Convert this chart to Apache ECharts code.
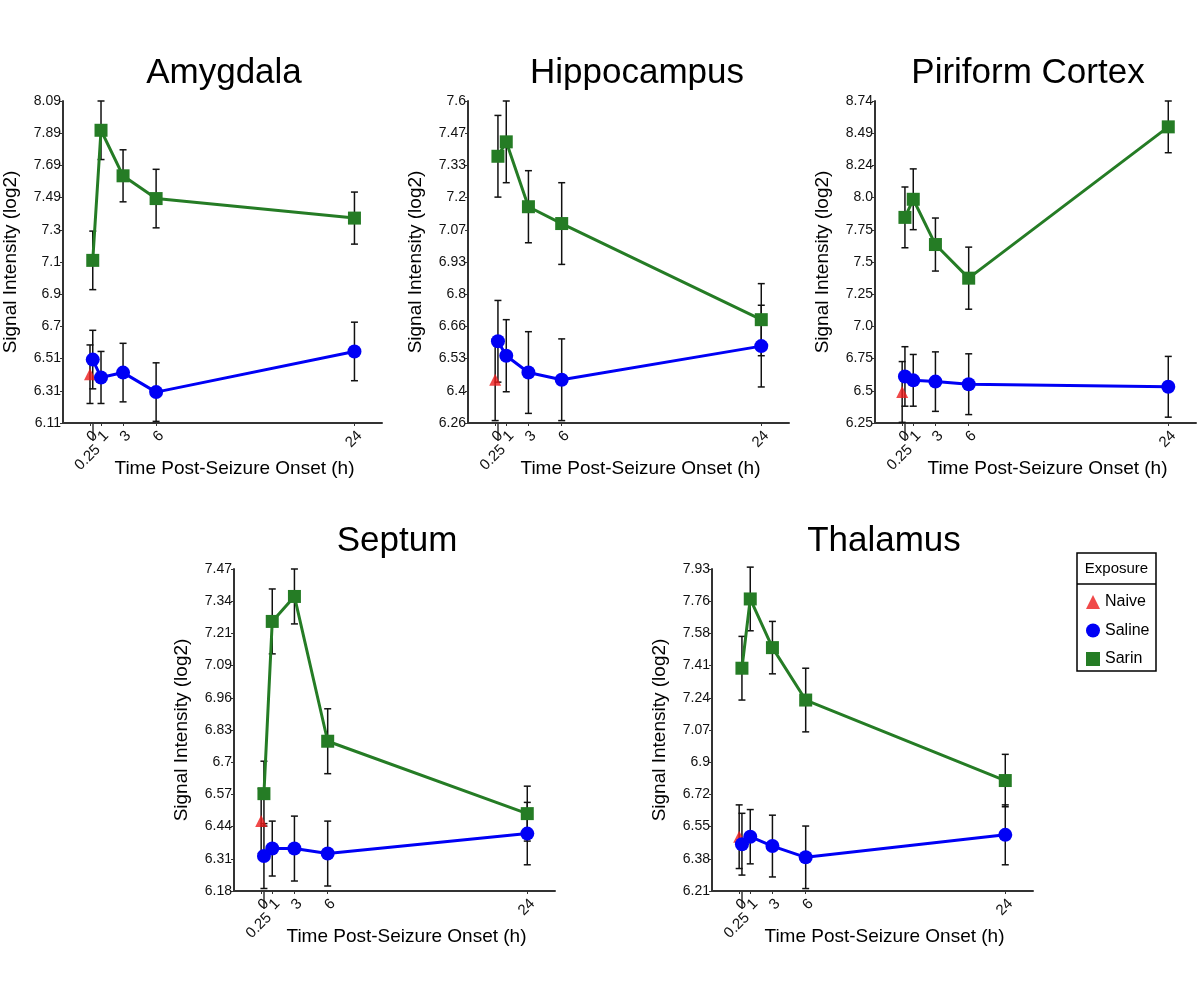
<!DOCTYPE html>
<html>
<head>
<meta charset="utf-8">
<script src="https://cdn.jsdelivr.net/npm/echarts@6/dist/echarts.min.js"></script>
<style>
  html, body { margin: 0; padding: 0; background: #fff; }
  #chart { width: 1200px; height: 985px; }
</style>
</head>
<body>
<div id="chart"></div>
<script>
// time points (h)
const times = [0.25, 1, 3, 6, 24];
const naiveTime = 0;
const xTicks = [1, 3, 6, 24];
const xTickZero = [0];
const xTickQuarter = [0.25];

// Amygdala
const amygdalaSarin = [7.11, 7.91, 7.63, 7.49, 7.37];
const amygdalaSarinErr = [0.18, 0.18, 0.16, 0.18, 0.16];
const amygdalaSaline = [6.50, 6.39, 6.42, 6.30, 6.55];
const amygdalaSalineErr = [0.18, 0.16, 0.18, 0.18, 0.18];
const amygdalaNaive = [6.41, 0.18];
const amygdalaTicks = ['6.11', '6.31', '6.51', '6.7', '6.9', '7.1', '7.3', '7.49', '7.69', '7.89', '8.09'];

// Hippocampus
const hippoSarin = [7.37, 7.43, 7.16, 7.09, 6.69];
const hippoSarinErr = [0.17, 0.17, 0.15, 0.17, 0.15];
const hippoSaline = [6.60, 6.54, 6.47, 6.44, 6.58];
const hippoSalineErr = [0.17, 0.15, 0.17, 0.17, 0.17];
const hippoNaive = [6.44, 0.17];
const hippoTicks = ['6.26', '6.4', '6.53', '6.66', '6.8', '6.93', '7.07', '7.2', '7.33', '7.47', '7.6'];

// Piriform Cortex
const piriformSarin = [7.84, 7.98, 7.63, 7.37, 8.54];
const piriformSarinErr = [0.235, 0.235, 0.205, 0.24, 0.2];
const piriformSaline = [6.61, 6.58, 6.57, 6.55, 6.53];
const piriformSalineErr = [0.23, 0.2, 0.23, 0.235, 0.235];
const piriformNaive = [6.49, 0.235];
const piriformTicks = ['6.25', '6.5', '6.75', '7.0', '7.25', '7.5', '7.75', '8.0', '8.24', '8.49', '8.74'];

// Septum
const septumSarin = [6.57, 7.26, 7.36, 6.78, 6.49];
const septumSarinErr = [0.13, 0.13, 0.11, 0.13, 0.11];
const septumSaline = [6.32, 6.35, 6.35, 6.33, 6.41];
const septumSalineErr = [0.13, 0.11, 0.13, 0.13, 0.125];
const septumNaive = [6.46, 0.13];
const septumTicks = ['6.18', '6.31', '6.44', '6.57', '6.7', '6.83', '6.96', '7.09', '7.21', '7.34', '7.47'];

// Thalamus
const thalamusSarin = [7.40, 7.77, 7.51, 7.23, 6.80];
const thalamusSarinErr = [0.17, 0.17, 0.14, 0.17, 0.14];
const thalamusSaline = [6.46, 6.50, 6.45, 6.39, 6.51];
const thalamusSalineErr = [0.165, 0.145, 0.165, 0.167, 0.16];
const thalamusNaive = [6.50, 0.17];
const thalamusTicks = ['6.21', '6.38', '6.55', '6.72', '6.9', '7.07', '7.24', '7.41', '7.58', '7.76', '7.93'];

const panels = [
  { title: 'Amygdala', sarin: amygdalaSarin, sarinErr: amygdalaSarinErr, saline: amygdalaSaline, salineErr: amygdalaSalineErr, naive: amygdalaNaive, ticks: amygdalaTicks },
  { title: 'Hippocampus', sarin: hippoSarin, sarinErr: hippoSarinErr, saline: hippoSaline, salineErr: hippoSalineErr, naive: hippoNaive, ticks: hippoTicks },
  { title: 'Piriform Cortex', sarin: piriformSarin, sarinErr: piriformSarinErr, saline: piriformSaline, salineErr: piriformSalineErr, naive: piriformNaive, ticks: piriformTicks },
  { title: 'Septum', sarin: septumSarin, sarinErr: septumSarinErr, saline: septumSaline, salineErr: septumSalineErr, naive: septumNaive, ticks: septumTicks },
  { title: 'Thalamus', sarin: thalamusSarin, sarinErr: thalamusSarinErr, saline: thalamusSaline, salineErr: thalamusSalineErr, naive: thalamusNaive, ticks: thalamusTicks }
];

// layout
const gridLeft = [61, 468, 875, 234, 712];
const gridTop = [101, 101, 101, 569, 569];
const gridW = 321, gridH = 322;
const titleX = [224, 637, 1028, 397, 884];
const xMin = -2.45, xMax = 26.5;

const GREEN = '#257c25', BLUE = '#0000f5', RED = '#ec1c1c', AXIS = '#333';
const FONT = '"Liberation Sans", Arial, sans-serif';

function renderErrorBar(params, api) {
  const x = api.value(0), y = api.value(1), e = api.value(2);
  const hi = api.coord([x, y + e]);
  const lo = api.coord([x, y - e]);
  const cap = 3.5;
  const style = { stroke: '#111', lineWidth: 1.5 };
  return {
    type: 'group',
    children: [
      { type: 'line', shape: { x1: hi[0], y1: hi[1], x2: lo[0], y2: lo[1] }, style },
      { type: 'line', shape: { x1: hi[0] - cap, y1: hi[1], x2: hi[0] + cap, y2: hi[1] }, style },
      { type: 'line', shape: { x1: lo[0] - cap, y1: lo[1], x2: lo[0] + cap, y2: lo[1] }, style }
    ]
  };
}

// one x axis per label group so that the library keeps every label
function timeAxis(i, values, tickLen, margin, withLine) {
  const ax = {
    gridIndex: i, type: 'value', min: xMin, max: xMax, position: 'bottom',
    axisLine: { show: withLine, onZero: false, lineStyle: { color: AXIS, width: 2 } },
    axisTick: { show: true, length: tickLen, customValues: values, lineStyle: { color: AXIS, width: tickLen > 5 ? 1.5 : 1 } },
    axisLabel: {
      show: true, customValues: values, rotate: 45, margin, align: 'right', verticalAlign: 'top',
      showMinLabel: true, showMaxLabel: true, hideOverlap: false,
      fontSize: 15, color: '#111', fontFamily: FONT
    },
    splitLine: { show: false }
  };
  if (withLine) {
    ax.name = 'Time Post-Seizure Onset (h)';
    ax.nameLocation = 'middle';
    ax.nameGap = 36;
    ax.nameTextStyle = { fontSize: 19, color: '#000', fontFamily: FONT, padding: [0, 0, 0, 24] };
  }
  return ax;
}

const grid = [], xAxis = [], yAxis = [], series = [], graphic = [];

panels.forEach((p, i) => {
  grid.push({ left: gridLeft[i], top: gridTop[i], width: gridW, height: gridH });

  const yMin = parseFloat(p.ticks[0]);
  const yMax = parseFloat(p.ticks[p.ticks.length - 1]);
  const n = p.ticks.length - 1;
  const yVals = p.ticks.map((_, k) => yMin + (yMax - yMin) * k / n);

  yAxis.push({
    gridIndex: i, type: 'value', min: yMin, max: yMax,
    axisLine: { show: true, onZero: false, lineStyle: { color: AXIS, width: 2 } },
    axisTick: { show: true, length: 3, customValues: yVals, lineStyle: { color: AXIS, width: 1 } },
    axisLabel: {
      show: true, customValues: yVals, margin: 2, fontSize: 14, color: '#111', fontFamily: FONT,
      showMinLabel: true, showMaxLabel: true, hideOverlap: false,
      formatter: v => p.ticks[Math.round((v - yMin) / (yMax - yMin) * n)]
    },
    splitLine: { show: false },
    name: 'Signal Intensity (log2)', nameLocation: 'middle', nameGap: 43,
    nameTextStyle: { fontSize: 19, color: '#000', fontFamily: FONT }
  });

  xAxis.push(timeAxis(i, xTicks, 3, 5, true));
  xAxis.push(timeAxis(i, xTickZero, 3, 5, false));
  xAxis.push(timeAxis(i, xTickQuarter, 18, 19, false));

  const xi = i * 3;
  const errData = []
    .concat(times.map((t, k) => [t, p.sarin[k], p.sarinErr[k]]))
    .concat(times.map((t, k) => [t, p.saline[k], p.salineErr[k]]))
    .concat([[naiveTime, p.naive[0], p.naive[1]]]);

  series.push({
    type: 'custom', name: 'err' + i, xAxisIndex: xi, yAxisIndex: i,
    renderItem: renderErrorBar, encode: { x: 0, y: 1 }, data: errData, z: 1, silent: true
  });
  series.push({
    type: 'line', name: 'Saline', xAxisIndex: xi, yAxisIndex: i,
    data: times.map((t, k) => [t, p.saline[k]]),
    symbol: 'circle', symbolSize: 14, showSymbol: true,
    itemStyle: { color: BLUE }, lineStyle: { color: BLUE, width: 3 }, z: 3
  });
  series.push({
    type: 'line', name: 'Sarin', xAxisIndex: xi, yAxisIndex: i,
    data: times.map((t, k) => [t, p.sarin[k]]),
    symbol: 'rect', symbolSize: 13, showSymbol: true,
    itemStyle: { color: GREEN }, lineStyle: { color: GREEN, width: 3 }, z: 3
  });
  series.push({
    type: 'scatter', name: 'Naive', xAxisIndex: xi, yAxisIndex: i,
    data: [[naiveTime, p.naive[0]]],
    symbol: 'triangle', symbolSize: 12,
    itemStyle: { color: RED }, z: 2
  });

  graphic.push({
    type: 'text', x: titleX[i], y: gridTop[i] - 28,
    style: { text: p.title, font: '35px ' + FONT, fill: '#000', textAlign: 'center', textVerticalAlign: 'middle', align: 'center', verticalAlign: 'middle' }
  });
});

// legend box
graphic.push({ type: 'rect', shape: { x: 1077, y: 553, width: 79, height: 118 }, style: { fill: 'none', stroke: '#000', lineWidth: 1.5 } });
graphic.push({ type: 'line', shape: { x1: 1077, y1: 584, x2: 1156, y2: 584 }, style: { stroke: '#000', lineWidth: 1.5 } });
graphic.push({
  type: 'text', x: 1116.5, y: 569,
  style: { text: 'Exposure', font: '15px ' + FONT, fill: '#000', textAlign: 'center', textVerticalAlign: 'middle', align: 'center', verticalAlign: 'middle' }
});

const chart = echarts.init(document.getElementById('chart'), null, { renderer: 'canvas' });
chart.setOption({
  animation: false,
  backgroundColor: '#fff',
  textStyle: { fontFamily: FONT },
  grid, xAxis, yAxis, series, graphic,
  legend: {
    data: [{ name: 'Naive', icon: 'triangle' }, { name: 'Saline', icon: 'circle' }, { name: 'Sarin', icon: 'rect' }],
    orient: 'vertical', left: 1086, top: 594, itemWidth: 14, itemHeight: 14, itemGap: 12.5,
    padding: 0, selectedMode: false,
    textStyle: { fontSize: 16, color: '#000', fontFamily: FONT }
  }
});
</script>
</body>
</html>
